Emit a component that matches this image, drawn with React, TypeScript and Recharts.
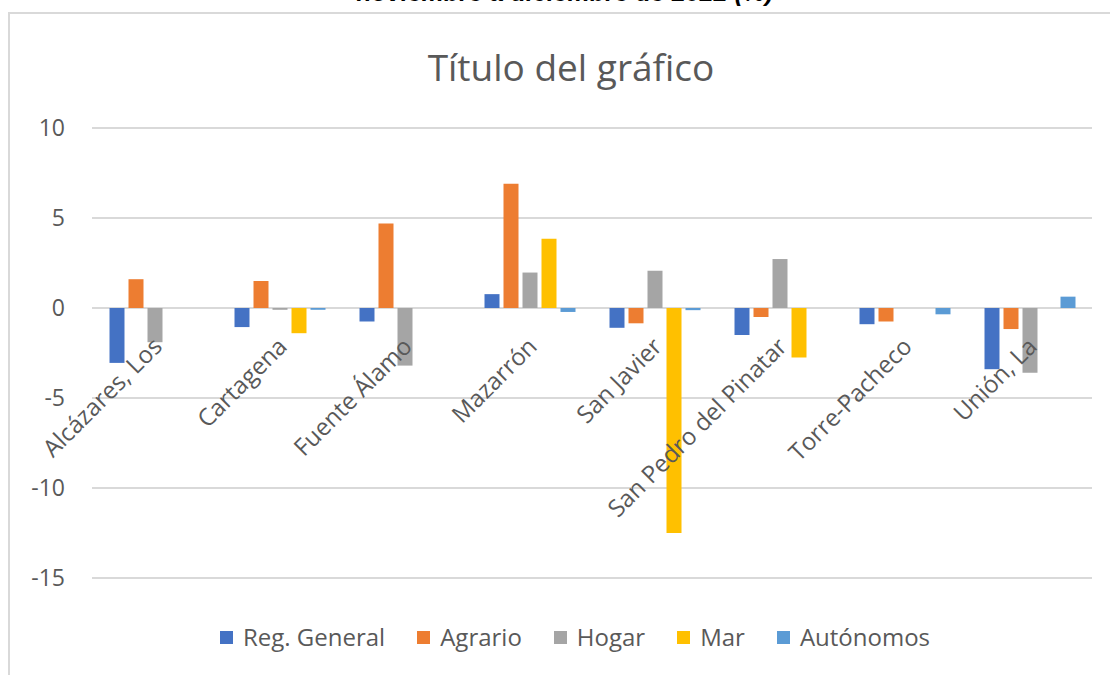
import React from 'react';
import { BarChart, Bar, XAxis, YAxis, CartesianGrid, Legend } from 'recharts';

// municipios y variación (%) por régimen
const municipios = [
  'Alcázares, Los',
  'Cartagena',
  'Fuente Álamo',
  'Mazarrón',
  'San Javier',
  'San Pedro del Pinatar',
  'Torre-Pacheco',
  'Unión, La',
];
const regGeneral = [-3.05, -1.06, -0.75, 0.77, -1.1, -1.5, -0.9, -3.4];
const agrario = [1.6, 1.5, 4.7, 6.9, -0.85, -0.5, -0.75, -1.17];
const hogar = [-1.9, -0.1, -3.2, 1.97, 2.07, 2.72, 0, -3.6];
const mar = [0, -1.4, 0, 3.85, -12.5, -2.75, 0, 0];
const autonomos = [0, -0.1, 0, -0.22, -0.12, 0, -0.35, 0.63];
const seriesNames = ['Reg. General', 'Agrario', 'Hogar', 'Mar', 'Autónomos'];
const yTicks = [-15, -10, -5, 0, 5, 10];

const data = municipios.map((m, i) => ({
  name: m,
  regGeneral: regGeneral[i],
  agrario: agrario[i],
  hogar: hogar[i],
  mar: mar[i],
  autonomos: autonomos[i],
}));

const W = 1110;
const H = 675;
const TOP = 128;
const PLOT_H = 450;
const X_AXIS_H = 20;
const Y_MIN = -15;
const Y_MAX = 10;
const ZERO_Y = TOP + (PLOT_H * Y_MAX) / (Y_MAX - Y_MIN);
const FONT = '"Open Sans", sans-serif';
const GREY_TEXT = '#595959';

const CategoryTick = (props: any) => {
  const { x, payload } = props;
  return (
    <g transform={`translate(${x + 9},${ZERO_Y + 40})`}>
      <text textAnchor="end" transform="rotate(-45)" fontSize={24} fontFamily={FONT} fill={GREY_TEXT}>
        {payload.value}
      </text>
    </g>
  );
};

const LegendContent = (props: any) => {
  const items = [...(props.payload || [])].sort(
    (a: any, b: any) => seriesNames.indexOf(a.value) - seriesNames.indexOf(b.value)
  );
  return (
    <div style={{ display: 'flex', justifyContent: 'center', paddingLeft: 40, fontFamily: FONT }}>
      {items.map((it: any, i: number) => (
        <div key={i} style={{ display: 'flex', alignItems: 'center', marginRight: i < items.length - 1 ? 32 : 0 }}>
          <span style={{ display: 'inline-block', width: 13, height: 13, background: it.color, marginRight: 10 }} />
          <span style={{ fontSize: 24, color: GREY_TEXT, lineHeight: '30px' }}>{it.value}</span>
        </div>
      ))}
    </div>
  );
};

const App: React.FC = () => {
  return (
    <div style={{ position: 'fixed', left: 0, top: 0, width: W, height: H, overflow: 'hidden', background: '#fff' }}>
      <div
        style={{
          position: 'absolute',
          left: 0,
          width: W,
          top: -20,
          textAlign: 'center',
          paddingLeft: 20,
          boxSizing: 'border-box',
          fontFamily: '"Liberation Sans", Arial, sans-serif',
          fontWeight: 'bold',
          fontStyle: 'italic',
          fontSize: 25,
          lineHeight: '25px',
          color: '#000',
        }}
      >
        noviembre a diciembre de 2022 (%)
      </div>
      <div
        style={{
          position: 'absolute',
          left: 8,
          top: 12,
          width: 1300,
          height: 900,
          border: '2px solid #d9d9d9',
        }}
      />
      <div
        style={{
          position: 'absolute',
          left: 0,
          width: W,
          top: 45,
          textAlign: 'center',
          paddingLeft: 32,
          boxSizing: 'border-box',
          fontFamily: FONT,
          fontSize: 37,
          lineHeight: '44px',
          color: GREY_TEXT,
        }}
      >
        Título del gráfico
      </div>
      <div style={{ position: 'absolute', left: 0, top: 0 }}>
        <BarChart
          width={W}
          height={H}
          data={data}
          margin={{ top: TOP, right: 18, left: 12, bottom: H - TOP - PLOT_H - X_AXIS_H }}
          barCategoryGap="14%"
          barGap={4}
        >
          <CartesianGrid vertical={false} stroke="#d9d9d9" strokeWidth={2} />
          <XAxis
            dataKey="name"
            height={X_AXIS_H}
            axisLine={false}
            tickLine={false}
            interval={0}
            tick={<CategoryTick />}
          />
          <YAxis
            width={80}
            domain={[Y_MIN, Y_MAX]}
            ticks={yTicks}
            axisLine={false}
            tickLine={false}
            tickSize={0}
            tickMargin={27}
            tick={{ fill: GREY_TEXT, fontSize: 23, fontFamily: FONT }}
          />
          <Legend
            verticalAlign="middle"
            align="center"
            layout="horizontal"
            wrapperStyle={{ top: 622, left: 0, width: W }}
            content={<LegendContent />}
          />
          <Bar dataKey="regGeneral" name={seriesNames[0]} fill="#4472c4" isAnimationActive={false} />
          <Bar dataKey="agrario" name={seriesNames[1]} fill="#ed7d31" isAnimationActive={false} />
          <Bar dataKey="hogar" name={seriesNames[2]} fill="#a5a5a5" isAnimationActive={false} />
          <Bar dataKey="mar" name={seriesNames[3]} fill="#ffc000" isAnimationActive={false} />
          <Bar dataKey="autonomos" name={seriesNames[4]} fill="#5b9bd5" isAnimationActive={false} />
        </BarChart>
      </div>
    </div>
  );
};

export default App;
